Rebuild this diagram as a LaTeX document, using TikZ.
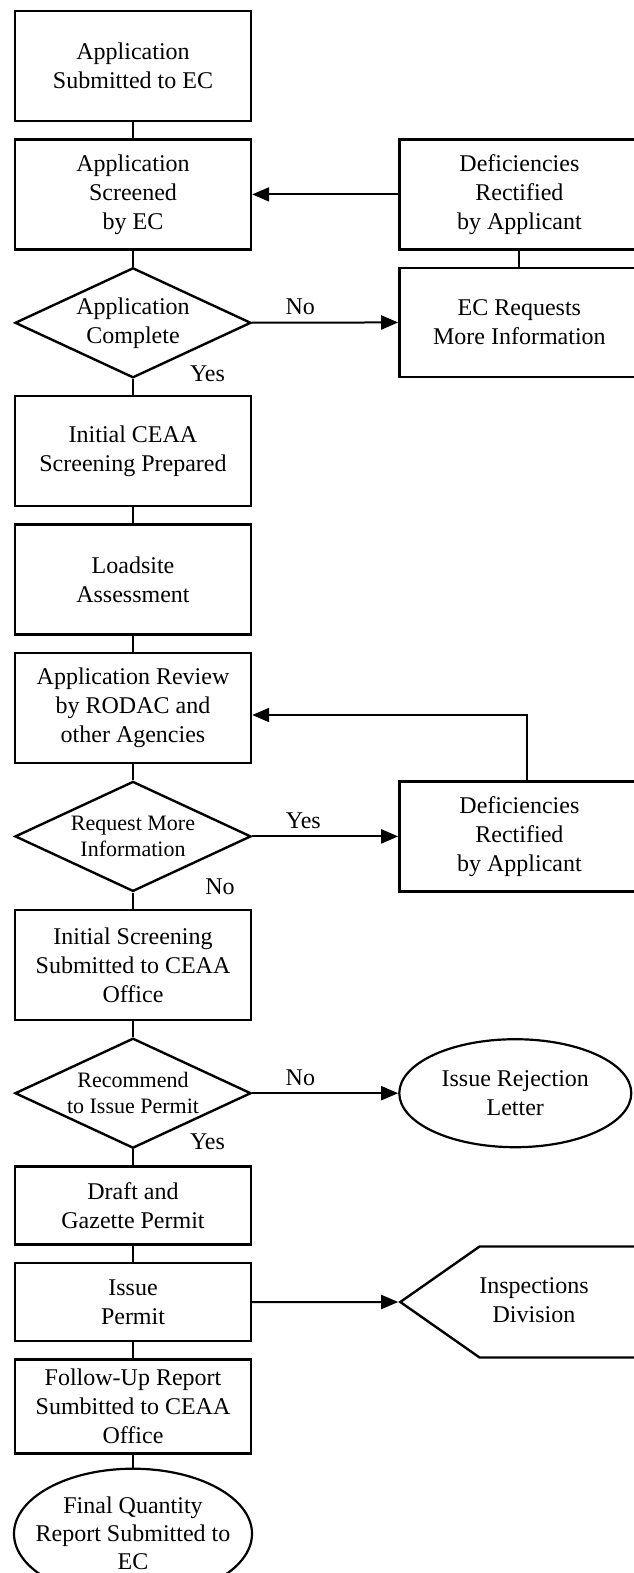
\documentclass[tikz,border=0pt]{standalone}
\usepackage{fontspec}
\setmainfont{Liberation Serif}
\usetikzlibrary{shapes.geometric, shapes.symbols, arrows.meta, positioning}

\begin{document}
\begin{tikzpicture}[
    node distance=8pt and 73pt,
    every node/.style={font=\fontsize{12}{14.5}\selectfont},
    process/.style={rectangle, draw, line width=1.2pt, minimum width=118pt, minimum height=55pt, align=center, inner sep=2pt},
    decision/.style={diamond, draw, line width=1.2pt, minimum width=118pt, minimum height=55pt, aspect=2.15, inner sep=0pt, align=center},
    smalltext/.style={font=\fontsize{11}{13}\selectfont},
    terminal/.style={ellipse, draw, line width=1.1pt, align=center},
    link/.style={line width=1pt},
    arrow/.style={-{Triangle[length=8.5pt, width=7pt]}, line width=1pt}
]
    \useasboundingbox (0,0) rectangle (316.5pt,-786.5pt);

    % Main column
    \node[process] (submit) at (66.5pt,-33pt) {Application\\Submitted to EC};
    \node[process, below=of submit] (screen) {Application\\Screened\\by EC};
    \node[decision, below=of screen] (complete) {Application\\Complete};
    \node[process, below=of complete] (ceaa) {Initial CEAA\\Screening Prepared};
    \node[process, below=of ceaa] (loadsite) {Loadsite\\Assessment};
    \node[process, below=of loadsite] (review) {Application Review\\by RODAC and\\other Agencies};
    \node[decision, smalltext, below=of review] (moreinfo) {Request More\\Information};
    \node[process, below=of moreinfo] (initscreen) {Initial Screening\\Submitted to CEAA\\Office};
    \node[decision, smalltext, below=of initscreen] (recommend) {Recommend\\to Issue Permit};
    \node[process, minimum height=39pt, below=of recommend] (draft) {Draft and\\Gazette Permit};
    \node[process, minimum height=39pt, below=of draft] (issue) {Issue\\Permit};
    \node[process, minimum height=47pt, below=of issue] (followup) {Follow-Up Report\\Sumbitted to CEAA\\Office};
    \node[terminal, minimum width=119pt, minimum height=65pt, inner xsep=-8pt, inner ysep=0pt, font=\fontsize{12}{14}\selectfont, below=6.5pt of followup] (final) {Final Quantity\\Report Submitted to\\EC};

    % Side column
    \node[process, minimum width=120pt, right=of screen] (fix1) {Deficiencies\\Rectified\\by Applicant};
    \node[process, minimum width=120pt, minimum height=54.5pt, below=of fix1] (ecreq) {EC Requests\\More Information};
    \node[process, minimum width=120pt, right=of moreinfo] (fix2) {Deficiencies\\Rectified\\by Applicant};
    \node[terminal, minimum width=116pt, minimum height=54pt, right=of recommend] (reject) {Issue Rejection\\Letter};
    \node[signal, signal to=west, signal pointer angle=70, draw, line width=1.2pt, minimum width=120pt, minimum height=55.5pt, right=of issue] (inspect) {\kern-26pt\begin{tabular}{@{}c@{}}Inspections\\Division\end{tabular}};

    % Main flow
    \draw[link] (submit) -- (screen);
    \draw[link] (screen) -- (complete);
    \draw[link] (complete) -- (ceaa);
    \draw[link] (ceaa) -- (loadsite);
    \draw[link] (loadsite) -- (review);
    \draw[link] (review) -- (moreinfo);
    \draw[link] (moreinfo) -- (initscreen);
    \draw[link] (initscreen) -- (recommend);
    \draw[link] (recommend) -- (draft);
    \draw[link] (draft) -- (issue);
    \draw[link] (issue) -- (followup);
    \draw[link] (followup) -- (final);

    % Branches
    \draw[arrow] (complete) -- node[pos=0.33, above] (no1) {No} (ecreq);
    \draw[link] (ecreq) -- (fix1);
    \draw[arrow] (fix1) -- (screen);
    \draw[arrow] (moreinfo) -- node[pos=0.35, above] (yes2) {Yes} (fix2);
    \draw[arrow] ([xshift=4pt]fix2.north) |- ([yshift=-3.5pt]review.east);
    \draw[arrow] (recommend) -- node[pos=0.33, above] (no3) {No} (reject);
    \draw[arrow] (issue) -- (inspect);

    % Answers below the decisions
    \node (yes1) at ([xshift=37.25pt, yshift=2.5pt]complete.south) {Yes};
    \node (no2) at ([xshift=43.5pt, yshift=3pt]moreinfo.south) {No};
    \node (yes3) at ([xshift=37.25pt, yshift=4pt]recommend.south) {Yes};
\end{tikzpicture}
\end{document}
